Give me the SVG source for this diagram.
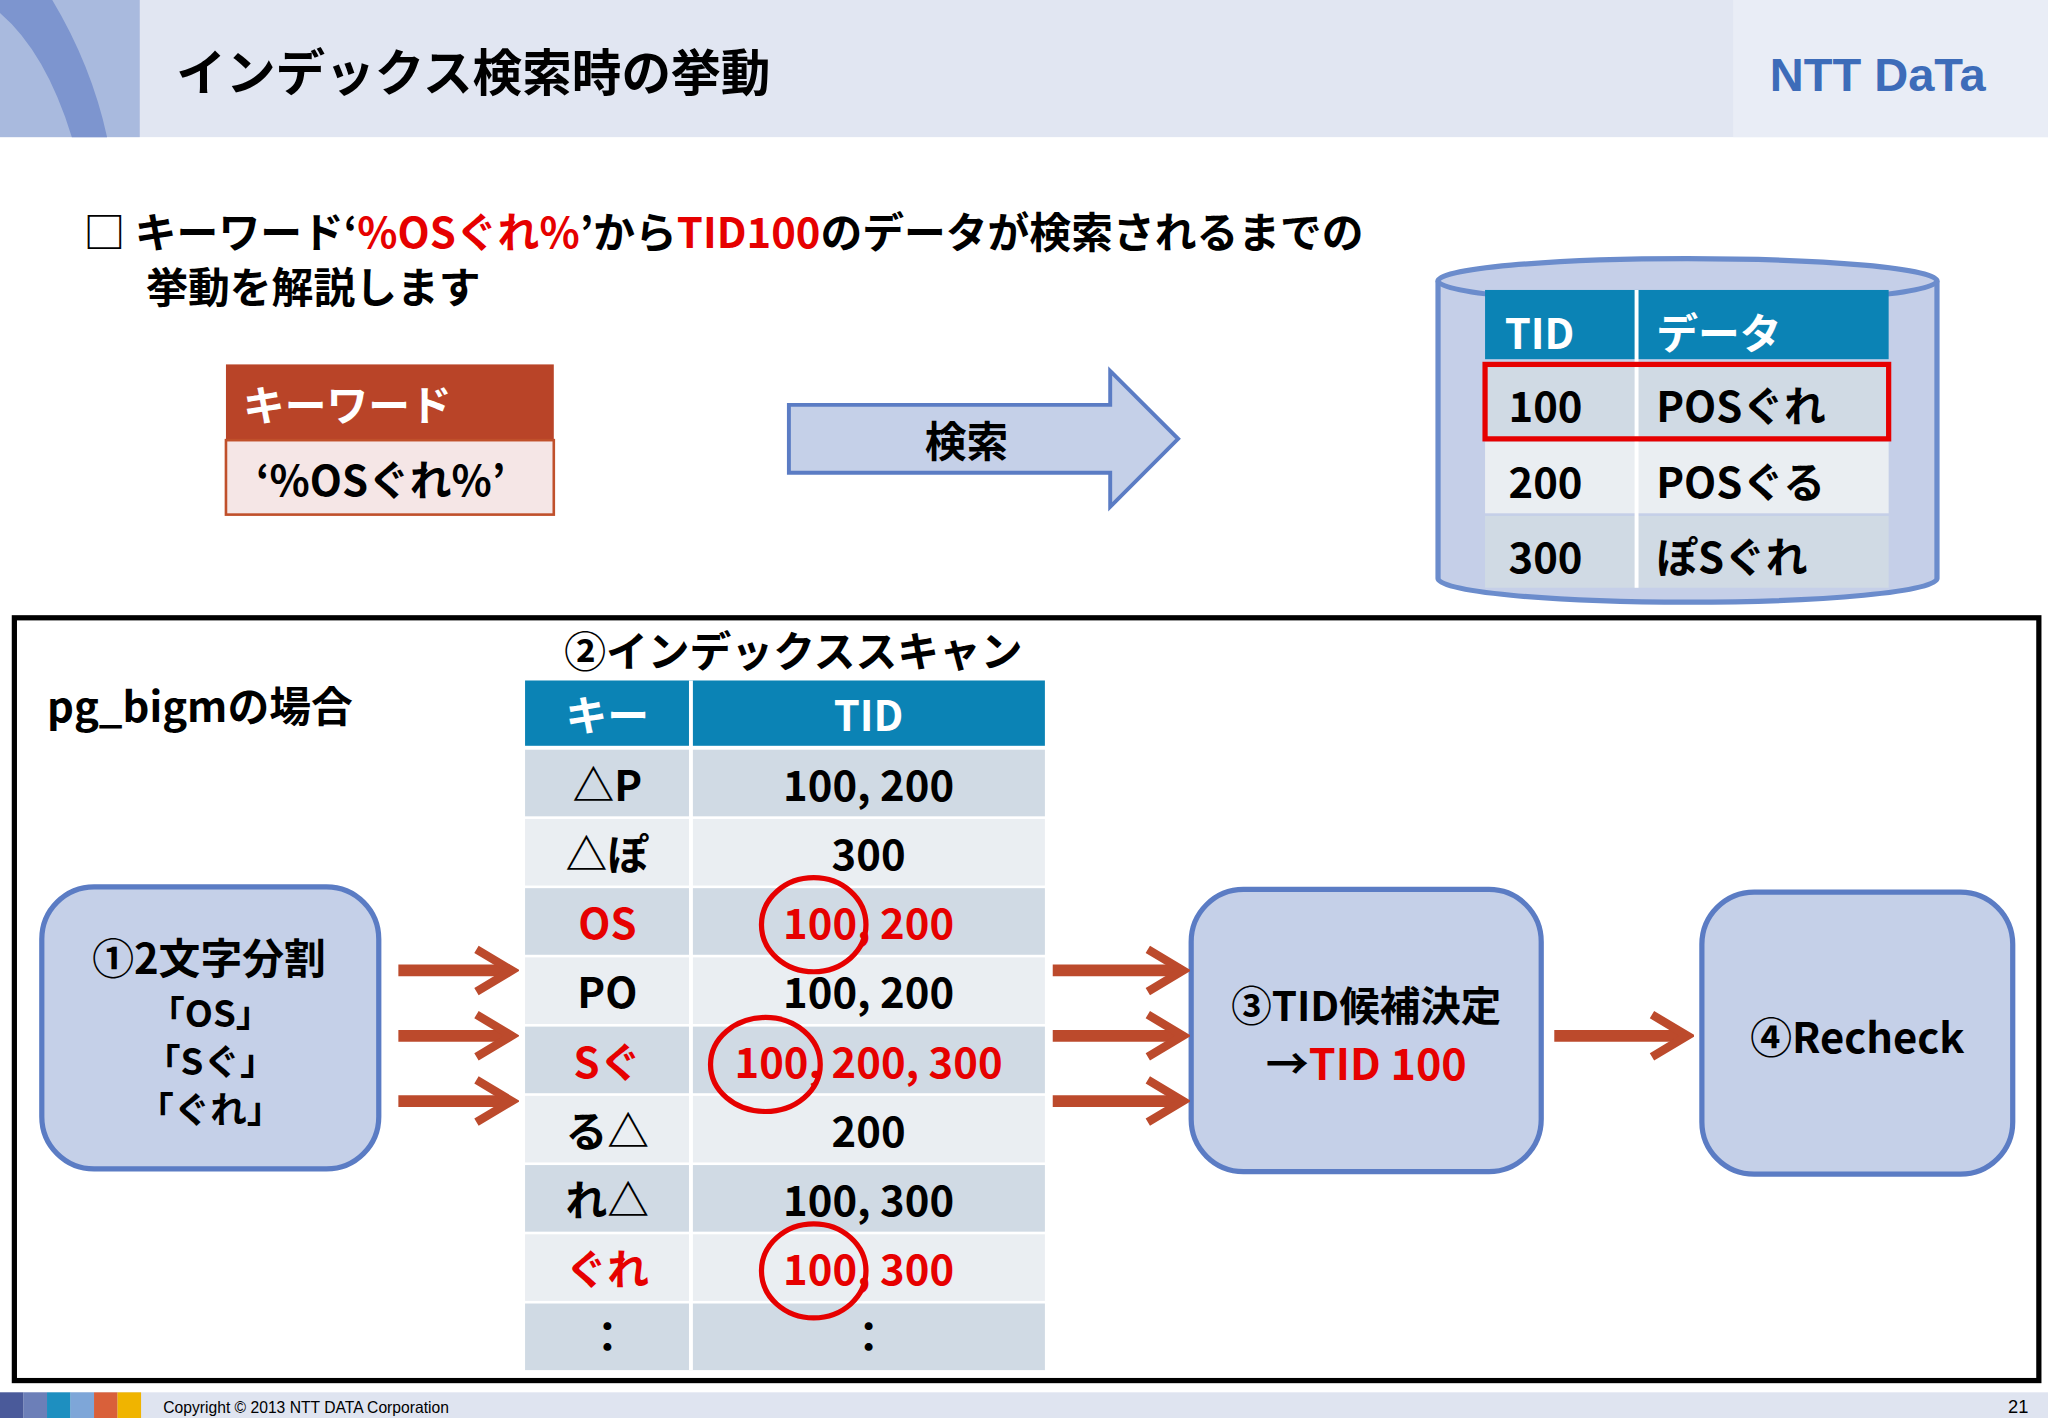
<svg xmlns="http://www.w3.org/2000/svg" width="2048" height="1418" viewBox="0 0 2048 1418">
<style>
text{font-family:"Noto Sans CJK JP","Liberation Sans",sans-serif;font-weight:bold}
.t32{font-size:32px}
.w{fill:#fff}
.r{fill:#e60000}
.k{fill:#000}
.c{text-anchor:middle}
.box{fill:#c5d0e8;stroke:#5b7cc4;stroke-width:4}
.arr{stroke:#bc4a2c;stroke-width:9;fill:none}
.circ{fill:none;stroke:#e60000;stroke-width:4}
.ra{fill:#d0dae4}.rb{fill:#eaeef2}
</style>
<defs>
<marker id="ah" viewBox="0 0 10 10" refX="8" refY="5" markerWidth="4" markerHeight="5.5" orient="auto" markerUnits="strokeWidth"><path d="M1,0.5 L8.5,5 L1,9.5" fill="none" stroke="#bc4a2c" stroke-width="1.8"/></marker>
</defs>
<rect width="2048" height="1418" fill="#fff"/>
<g transform="scale(1.30612)">
<g id="header">
<rect x="0" y="0" width="1568" height="105" fill="#e1e6f2"/>
<rect x="1327" y="0" width="241" height="105" fill="#e9edf6"/>
<rect x="0" y="0" width="107" height="105" fill="#a9bade"/>
<path d="M0,0 L40,0 Q70,50 82,105 L55,105 Q35,40 0,10 Z" fill="#7d95cf"/>
<text x="135" y="70" font-size="38" class="k">インデックス検索時の挙動</text>
<text x="1355" y="70" font-size="36" fill="#3d6cb9" style="font-family:'Liberation Sans',sans-serif">NTT DaTa</text>
</g>
<g id="intro">
<text x="64" y="190" class="t32"><tspan>□ キーワード‘</tspan><tspan class="r">%OSぐれ%</tspan><tspan>’から</tspan><tspan class="r">TID100</tspan><tspan>のデータが検索されるまでの</tspan></text>
<text x="112" y="232" class="t32">挙動を解説します</text>
</g>
<g id="keyword">
<rect x="173" y="279" width="251" height="58" fill="#b94428"/>
<rect x="173" y="337" width="251" height="57" fill="#f5e6e6" stroke="#c0502b" stroke-width="2"/>
<text x="186" y="322" class="t32 w">キーワード</text>
<text x="196" y="380" class="t32">‘%OSぐれ%’</text>
</g>
<g id="search-arrow">
<path d="M604,310 L850,310 L850,284 L902,336 L850,388 L850,362 L604,362 Z" fill="#c5d0e8" stroke="#5b7cc4" stroke-width="3"/>
<text x="740" y="350" class="t32 c">検索</text>
</g>
<g id="db">
<path d="M1101,215 L1101,443 A191,18 0 0 0 1483,443 L1483,215" fill="#c5cfe8" stroke="#6b8ccc" stroke-width="4"/>
<ellipse cx="1292" cy="215" rx="191" ry="17" fill="#c5cfe8" stroke="#6b8ccc" stroke-width="4"/>
<rect x="1137" y="222" width="309" height="53" fill="#0b83b5"/>
<rect x="1137" y="278" width="309" height="58" class="ra"/>
<rect x="1137" y="338" width="309" height="55" class="rb"/>
<rect x="1137" y="395" width="309" height="55" class="ra"/>
<line x1="1253" y1="222" x2="1253" y2="450" stroke="#fff" stroke-width="3"/>
<text x="1152" y="267" class="t32 w">TID</text>
<text x="1268" y="267" class="t32 w">データ</text>
<text x="1155" y="323" class="t32">100</text><text x="1268" y="323" class="t32">POSぐれ</text>
<text x="1155" y="381" class="t32">200</text><text x="1268" y="381" class="t32">POSぐる</text>
<text x="1155" y="439" class="t32">300</text><text x="1268" y="439" class="t32">ぽSぐれ</text>
<rect x="1137" y="279" width="309" height="57" fill="none" stroke="#e60000" stroke-width="4"/>
</g>
<rect x="11" y="473" width="1550" height="584" fill="none" stroke="#000" stroke-width="4"/>
<text x="36" y="553" class="t32">pg_bigmの場合</text>
<g id="index-scan">
<text x="432" y="511" class="t32">②インデックススキャン</text>
<rect x="402" y="521" width="398" height="50" fill="#0b83b5"/>
<rect x="402" y="574" width="398" height="51" class="ra"/>
<rect x="402" y="627" width="398" height="51" class="rb"/>
<rect x="402" y="680" width="398" height="51" class="ra"/>
<rect x="402" y="733" width="398" height="51" class="rb"/>
<rect x="402" y="786" width="398" height="51" class="ra"/>
<rect x="402" y="839" width="398" height="51" class="rb"/>
<rect x="402" y="892" width="398" height="51" class="ra"/>
<rect x="402" y="945" width="398" height="51" class="rb"/>
<rect x="402" y="998" width="398" height="51" class="ra"/>
<line x1="529" y1="521" x2="529" y2="1049" stroke="#fff" stroke-width="3"/>
<text x="465" y="560" class="t32 w c">キー</text><text x="665" y="560" class="t32 w c">TID</text>
<text x="465" y="613" class="t32 c">△P</text><text x="665" y="613" class="t32 c">100, 200</text>
<text x="465" y="666" class="t32 c">△ぽ</text><text x="665" y="666" class="t32 c">300</text>
<text x="465" y="719" class="t32 c r">OS</text><text x="665" y="719" class="t32 c r">100, 200</text>
<text x="465" y="772" class="t32 c">PO</text><text x="665" y="772" class="t32 c">100, 200</text>
<text x="465" y="825" class="t32 c r">Sぐ</text><text x="665" y="825" class="t32 c r">100, 200, 300</text>
<text x="465" y="878" class="t32 c">る△</text><text x="665" y="878" class="t32 c">200</text>
<text x="465" y="931" class="t32 c">れ△</text><text x="665" y="931" class="t32 c">100, 300</text>
<text x="465" y="984" class="t32 c r">ぐれ</text><text x="665" y="984" class="t32 c r">100, 300</text>
<text x="465" y="1035" class="t32 c">：</text><text x="665" y="1035" class="t32 c">：</text>
<ellipse cx="623" cy="708" rx="40" ry="36" class="circ"/>
<ellipse cx="586" cy="815" rx="42" ry="36" class="circ"/>
<ellipse cx="623" cy="973" rx="40" ry="36" class="circ"/>
</g>
<g id="step1">
<rect x="32" y="679" width="258" height="216" rx="40" class="box"/>
<text x="160" y="746" class="t32 c">①2文字分割</text>
<text x="161" y="786" font-size="28" class="c">「OS」</text>
<text x="161" y="823" font-size="28" class="c">「Sぐ」</text>
<text x="161" y="860" font-size="28" class="c">「ぐれ」</text>
</g>
<g id="step3">
<rect x="912" y="681" width="268" height="216" rx="40" class="box"/>
<text x="1046" y="782" font-size="31" class="c">③TID候補決定</text>
<text x="1046" y="827" font-size="33" class="c"><tspan>→</tspan><tspan class="r">TID 100</tspan></text>
</g>
<g id="step4">
<rect x="1303" y="683" width="238" height="216" rx="40" class="box"/>
<text x="1422" y="806" class="t32 c">④Recheck</text>
</g>
<g id="connectors">
<line x1="305" y1="743" x2="390" y2="743" class="arr" marker-end="url(#ah)"/>
<line x1="305" y1="793" x2="390" y2="793" class="arr" marker-end="url(#ah)"/>
<line x1="305" y1="843" x2="390" y2="843" class="arr" marker-end="url(#ah)"/>
<line x1="806" y1="743" x2="904" y2="743" class="arr" marker-end="url(#ah)"/>
<line x1="806" y1="793" x2="904" y2="793" class="arr" marker-end="url(#ah)"/>
<line x1="806" y1="843" x2="904" y2="843" class="arr" marker-end="url(#ah)"/>
<line x1="1190" y1="793" x2="1290" y2="793" class="arr" marker-end="url(#ah)"/>
</g>
<g id="footer">
<rect x="0" y="1066" width="1568" height="20" fill="#dfe4f0"/>
<rect x="0" y="1066" width="18" height="20" fill="#4a5a9a"/>
<rect x="18" y="1066" width="18" height="20" fill="#6c7fb8"/>
<rect x="36" y="1066" width="18" height="20" fill="#1e8fc0"/>
<rect x="54" y="1066" width="18" height="20" fill="#7ea6d8"/>
<rect x="72" y="1066" width="18" height="20" fill="#d9603a"/>
<rect x="90" y="1066" width="18" height="20" fill="#f0b400"/>
<text x="125" y="1082" font-size="12" style="font-weight:normal;font-family:'Liberation Sans',sans-serif">Copyright © 2013 NTT DATA Corporation</text>
<text x="1553" y="1082" font-size="14" style="font-weight:normal;font-family:'Liberation Sans',sans-serif;text-anchor:end">21</text>
</g>
</g>
</svg>
